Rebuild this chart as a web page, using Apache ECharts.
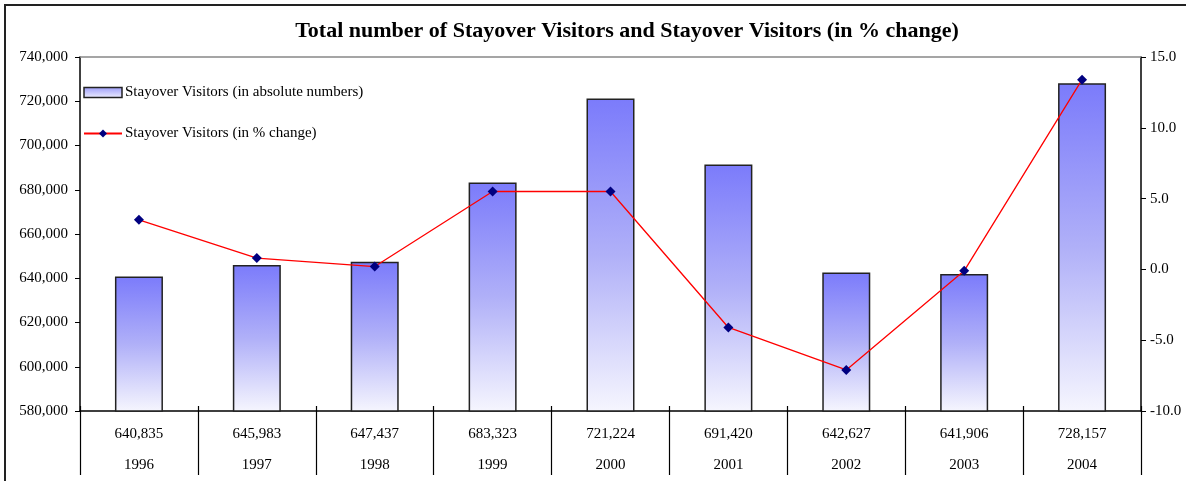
<!DOCTYPE html>
<html>
<head>
<meta charset="utf-8">
<script src="https://cdn.jsdelivr.net/npm/echarts@6/dist/echarts.min.js"></script>
<style>
    html, body { margin: 0; padding: 0; background: #fff; }
    #chart { width: 1186px; height: 481px; }
</style>
</head>
<body>
<div id="chart"></div>
<script>
// 数据
const years = ['1996', '1997', '1998', '1999', '2000', '2001', '2002', '2003', '2004']
const visitors = [640835, 645983, 647437, 683323, 721224, 691420, 642627, 641906, 728157]
const pctChange = [3.5, 0.8, 0.2, 5.5, 5.5, -4.1, -7.1, -0.1, 13.4]
const leftTicks = { min: 580000, max: 740000, step: 20000 }
const rightTicks = { min: -10, max: 15, step: 5 }

const serif = '"Liberation Serif", "DejaVu Serif", serif'
const fmt = (n) => n.toLocaleString('en-US')

const chart = echarts.init(document.getElementById('chart'))

const barFill = {
    type: 'linear', x: 0, y: 0, x2: 0, y2: 1,
    colorStops: [
        { offset: 0, color: '#7b7bfb' },
        { offset: 0.5, color: '#b0b0f8' },
        { offset: 1, color: '#f6f6fe' },
    ],
}

chart.setOption({
    backgroundColor: '#fff',
    animation: false,
    title: {
        text: 'Total number of Stayover Visitors and Stayover Visitors (in % change)',
        left: 622, top: 15, textAlign: 'center',
        textStyle: { fontFamily: serif, fontSize: 22, fontWeight: 'bold', color: '#000' },
    },
    graphic: [
        { type: 'rect', shape: { x: 5, y: 5, width: 1400, height: 700 }, style: { fill: 'none', stroke: '#222', lineWidth: 2 }, silent: true },
    ],
    legend: {
        orient: 'vertical', left: 83, top: 85, itemGap: 26, padding: 0,
        itemWidth: 38, itemHeight: 10,
        textStyle: { fontFamily: serif, fontSize: 15, color: '#000', padding: [0, 0, 0, -2] },
        data: [
            { name: 'Stayover Visitors (in absolute numbers)', icon: 'rect', itemStyle: { color: { type: 'linear', x: 0, y: 0, x2: 0, y2: 1, colorStops: [{ offset: 0, color: '#9a9af8' }, { offset: 1, color: '#f0f0fe' }] }, borderColor: '#222', borderWidth: 1.5 } },
            { name: 'Stayover Visitors (in % change)' },
        ],
    },
    grid: { left: 80, right: 45, top: 57, bottom: 67 },
    xAxis: [
        {
            type: 'category', data: years, position: 'bottom',
            axisLine: { onZero: false, lineStyle: { color: '#000', width: 1.5 } },
            axisTick: { show: true, length: 64, lineStyle: { color: '#000', width: 1.2 } },
            axisLabel: {
                margin: 8, lineHeight: 31, fontFamily: serif, fontSize: 15, color: '#000',
                formatter: (v, i) => fmt(visitors[i]) + '\n' + v,
            },
        },
        {
            type: 'category', data: years, position: 'bottom',
            axisLine: { show: false, onZero: false },
            axisTick: { show: true, inside: true, length: 5, lineStyle: { color: '#000', width: 1.2 } },
            axisLabel: { show: false },
        },
        {
            type: 'category', data: years, position: 'top',
            axisLine: { onZero: false, lineStyle: { color: '#888', width: 1.5 } },
            axisTick: { show: false },
            axisLabel: { show: false },
        },
    ],
    yAxis: [
        {
            type: 'value', min: leftTicks.min, max: leftTicks.max, interval: leftTicks.step,
            axisLine: { show: true, lineStyle: { color: '#000', width: 1.5 } },
            axisTick: { show: true, length: 5, lineStyle: { color: '#000' } },
            splitLine: { show: false },
            axisLabel: { margin: 12, fontFamily: serif, fontSize: 15, color: '#000', formatter: (v) => fmt(v) },
        },
        {
            type: 'value', min: rightTicks.min, max: rightTicks.max, interval: rightTicks.step,
            position: 'right',
            axisLine: { show: true, lineStyle: { color: '#000', width: 1.5 } },
            axisTick: { show: true, length: 5, lineStyle: { color: '#000' } },
            splitLine: { show: false },
            axisLabel: { margin: 9, fontFamily: serif, fontSize: 15, color: '#000', formatter: (v) => v.toFixed(1) },
        },
    ],
    series: [
        {
            name: 'Stayover Visitors (in absolute numbers)', type: 'bar',
            data: visitors, barWidth: 48,
            itemStyle: { color: barFill, borderColor: '#222', borderWidth: 1.5 },
        },
        {
            name: 'Stayover Visitors (in % change)', type: 'line', yAxisIndex: 1,
            data: pctChange,
            symbol: 'diamond', symbolSize: 10,
            itemStyle: { color: '#000080' },
            lineStyle: { color: '#ff0000', width: 1.3 },
        },
    ],
})
</script>
</body>
</html>
